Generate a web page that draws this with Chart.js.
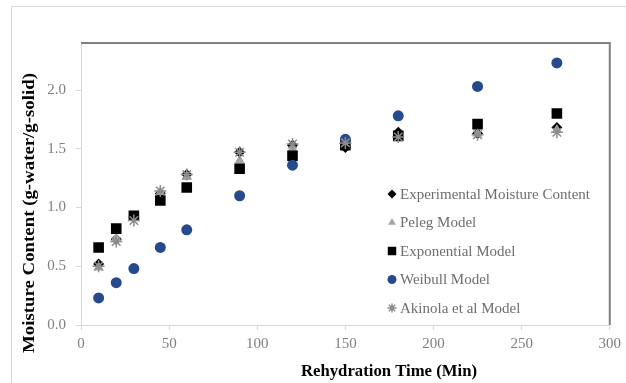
<!DOCTYPE html>
<html>
<head>
<meta charset="utf-8">
<script src="https://cdn.jsdelivr.net/npm/chart.js@4/dist/chart.umd.min.js"></script>
<style>
  html, body { margin: 0; padding: 0; background: #fff; }
  #wrap { position: relative; width: 626px; height: 383px; overflow: hidden; }
  #frame { position: absolute; left: 11px; top: 6px; width: 700px; height: 500px; border: 1px solid #d9d9d9; }
  #chart { position: absolute; left: 0; top: 0; }
</style>
</head>
<body>
<div id="wrap">
  <div id="frame"></div>
  <canvas id="chart" width="626" height="383"></canvas>
</div>
<script>
var times = [10, 20, 30, 45, 60, 90, 120, 150, 180, 225, 270];
var experimental = [0.52, 0.73, 0.92, 1.12, 1.28, 1.47, 1.53, 1.51, 1.64, 1.63, 1.68];
var peleg = [0.49, 0.74, 0.91, 1.13, 1.26, 1.40, 1.50, 1.56, 1.60, 1.63, 1.66];
var exponential = [0.66, 0.82, 0.93, 1.06, 1.17, 1.33, 1.44, 1.53, 1.61, 1.71, 1.80];
var weibull = [0.23, 0.36, 0.48, 0.66, 0.81, 1.10, 1.36, 1.58, 1.78, 2.03, 2.23];
var akinola = [0.50, 0.71, 0.89, 1.14, 1.28, 1.47, 1.54, 1.55, 1.60, 1.62, 1.64];
var xTicksMax = 300;
var yTicksMax = 2.0;

var serif = "'Liberation Serif', 'Times New Roman', serif";

function points(ys) {
  return times.map(function (t, i) {
    return { x: t, y: ys[i] };
  });
}

function series(label, ys, style, color, radius, order) {
  return {
    label: label,
    data: points(ys),
    pointStyle: style,
    backgroundColor: color,
    borderColor: color,
    borderWidth: style === "star" ? 1.5 : 0,
    pointRadius: radius,
    pointHoverRadius: radius,
    order: order,
  };
}

var datasets = [
  series("Experimental Moisture Content", experimental, "rectRot", "#000000", 5.5, 4),
  series("Peleg Model", peleg, "triangle", "#a5a5a5", 6, 3),
  series("Exponential Model", exponential, "rect", "#000000", 7.5, 2),
  series("Weibull Model", weibull, "circle", "#264a8c", 5.5, 1),
  series("Akinola et al Model", akinola, "star", "#8c8c8c", 6, 0),
];

// draws text centred at (x, y), stretched along its length to fill `len` px
function stretchedText(ctx, text, x, y, len, angle) {
  ctx.save();
  ctx.translate(x, y);
  ctx.rotate(angle);
  var w = ctx.measureText(text).width;
  ctx.scale(len / w, 1);
  ctx.fillText(text, 0, 0);
  ctx.restore();
}

var framePlugin = {
  id: "framePlugin",
  afterDraw: function (chart) {
    var ctx = chart.ctx;
    var a = chart.chartArea;
    ctx.save();
    ctx.strokeStyle = "#808080";
    ctx.lineWidth = 2;
    ctx.beginPath();
    ctx.moveTo(a.left, a.top);
    ctx.lineTo(a.right, a.top);
    ctx.lineTo(a.right, a.bottom);
    ctx.stroke();

    // axis titles
    ctx.fillStyle = "#000";
    ctx.font = "bold 17px " + serif;
    ctx.textAlign = "center";
    ctx.textBaseline = "middle";
    stretchedText(ctx, "Rehydration Time (Min)", 389, 372, 176, 0);
    stretchedText(ctx, "Moisture Content (g-water/g-solid)", 30, 213, 280, -Math.PI / 2);
    ctx.restore();

    // legend inside plot area
    ctx.save();
    ctx.font = "15px " + serif;
    ctx.textAlign = "left";
    ctx.textBaseline = "middle";
    var y0 = 194;
    var step = 28.5;
    chart.data.datasets.forEach(function (ds, i) {
      var y = y0 + i * step;
      ctx.fillStyle = ds.backgroundColor;
      ctx.strokeStyle = ds.borderColor;
      ctx.lineWidth = ds.borderWidth || 1;
      Chart.helpers.drawPoint(ctx, {
        pointStyle: ds.pointStyle,
        radius: ds.pointStyle === "rect" ? 6 : 4.5,
        rotation: 0,
        borderWidth: ds.borderWidth,
      }, 392, y);
      ctx.fillStyle = "#6e6e6e";
      ctx.fillText(ds.label, 400, y + 1);
    });
    ctx.restore();
  },
};

new Chart(document.getElementById("chart"), {
  type: "scatter",
  data: { datasets: datasets },
  options: {
    responsive: false,
    animation: false,
    layout: { padding: { top: 43, right: 10, left: 0, bottom: 0 } },
    plugins: {
      legend: { display: false },
      tooltip: { enabled: false },
    },
    scales: {
      x: {
        type: "linear",
        min: 0,
        max: xTicksMax,
        afterFit: function (s) {
          s.height = 58;
        },
        ticks: { stepSize: 50, color: "#7f7f7f", font: { family: serif, size: 15 }, padding: 5 },
        grid: { drawOnChartArea: false, drawTicks: true, tickLength: 5, color: "#d9d9d9" },
        border: { color: "#d9d9d9" },
      },
      y: {
        type: "linear",
        min: 0,
        max: 2.4,
        afterFit: function (s) {
          s.width = 81;
        },
        afterBuildTicks: function (s) {
          s.ticks = s.ticks.filter(function (t) {
            return t.value <= yTicksMax + 1e-6;
          });
        },
        ticks: {
          stepSize: 0.5,
          color: "#7f7f7f",
          font: { family: serif, size: 15 },
          padding: 10,
          callback: function (v) {
            return Number(v).toFixed(1);
          },
        },
        grid: { drawOnChartArea: false, drawTicks: true, tickLength: 5, color: "#d9d9d9" },
        border: { color: "#d9d9d9" },
      },
    },
  },
  plugins: [framePlugin],
});
</script>
</body>
</html>
